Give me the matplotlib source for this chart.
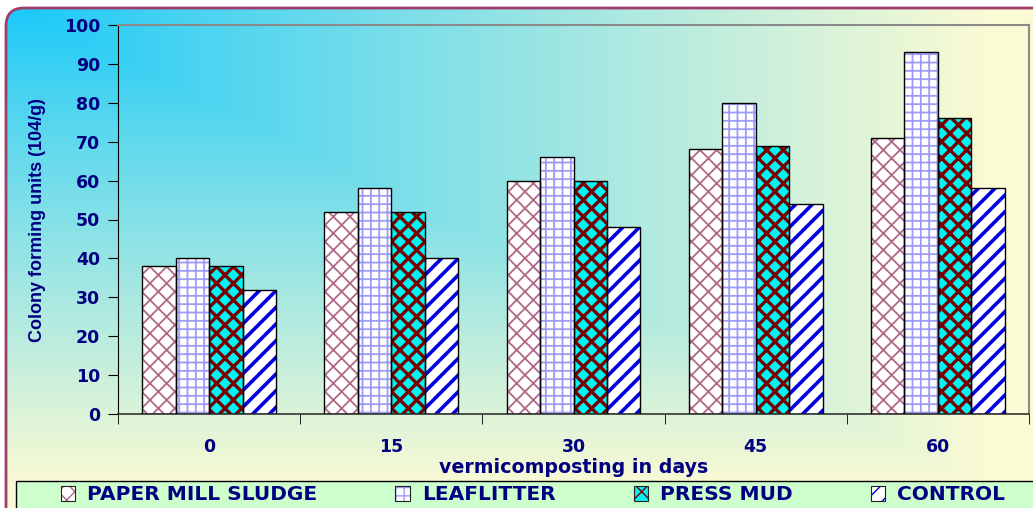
import numpy as np
import matplotlib
matplotlib.use("Agg")
import matplotlib.pyplot as plt
from matplotlib.patches import Patch, FancyBboxPatch, Rectangle
from matplotlib.legend_handler import HandlerTuple

categories = ["0", "15", "30", "45", "60"]
series_names = ["PAPER MILL SLUDGE", "LEAFLITTER", "PRESS MUD", "CONTROL"]
paper_mill = [38, 52, 60, 68, 71]
leaflitter = [40, 58, 66, 80, 93]
press_mud = [38, 52, 60, 69, 76]
control = [32, 40, 48, 54, 58]
y_ticks = [0, 10, 20, 30, 40, 50, 60, 70, 80, 90, 100]

styles = [
    dict(face="white", hcol="#b06888", hatch="xx", hlw=1.3),
    dict(face="white", hcol="#9c9cf8", hatch="++", hlw=1.3),
    dict(face="#00f4f4", hcol="#7a0000", hatch="xx", hlw=2.4),
    dict(face="white", hcol="#0000e0", hatch="//", hlw=2.6),
]

plt.rcParams['font.family'] = ['DejaVu Sans']
navy = "#000080"
wide = ['DejaVu Sans']
narrow = ['Liberation Sans', 'DejaVu Sans']

W, H = 1033, 508
fig = plt.figure(figsize=(W / 100, H / 100), dpi=100)

# background gradient clipped to rounded rectangle
bg = fig.add_axes([0, 0, 1, 1], zorder=-10)
bg.set_xlim(0, W)
bg.set_ylim(H, 0)
bg.axis("off")
yy, xx = np.mgrid[0:H, 0:W]
t = np.maximum(xx / W, yy / H)
t = np.clip(t * 1.05, 0, 1) ** 0.9
c0 = np.array([20, 200, 250]) / 255.0
c1 = np.array([250, 250, 212]) / 255.0
img = c0[None, None, :] * (1 - t[..., None]) + c1[None, None, :] * t[..., None]
im = bg.imshow(img, extent=(0, W, H, 0), aspect="auto", interpolation="bilinear")
frame = FancyBboxPatch((6, 8), W + 20, H + 20, boxstyle="round,pad=0,rounding_size=18",
                       facecolor="none", edgecolor="#a03c6c", linewidth=2)
bg.add_patch(frame)
im.set_clip_path(frame)
# legend box
bg.add_patch(Rectangle((16, 481), W, 40, facecolor="#ccffcc", edgecolor="black", linewidth=1.0))

ax = fig.add_axes([118 / W, 1 - 414 / H, (1029 - 118) / W, (414 - 25) / H])
ax.patch.set_alpha(0)

x = np.arange(len(categories))
w = 0.1836
data = [paper_mill, leaflitter, press_mud, control]
handles = []
for i, (vals, st) in enumerate(zip(data, styles)):
    pos = x + (i - 1.5) * w
    bars = ax.bar(pos, vals, width=w, color=st["face"], edgecolor=st["hcol"],
                  hatch=st["hatch"], linewidth=0, zorder=2)
    for b in bars:
        try:
            b.set_hatch_linewidth(st["hlw"])
        except AttributeError:
            pass
    ax.bar(pos, vals, width=w, fill=False, edgecolor="black", linewidth=1.0, zorder=3)
    h = Patch(facecolor=st["face"], edgecolor=st["hcol"], hatch=st["hatch"], linewidth=0)
    try:
        h.set_hatch_linewidth(st["hlw"] * 0.8)
    except AttributeError:
        pass
    outline = Patch(facecolor="none", edgecolor="#222222", linewidth=0.8)
    handles.append((h, outline))

ax.set_xlim(-0.5, len(categories) - 0.5)
ax.set_ylim(0, 100)
ax.set_yticks(y_ticks)
ax.set_yticklabels([str(v) for v in y_ticks], fontsize=12.5, fontweight="bold", color=navy, family=wide)
ax.set_xticks(x)
ax.set_xticklabels(categories, fontsize=12.5, fontweight="bold", color=navy, family=wide)
ax.set_xticks(np.arange(-0.5, len(categories), 1.0), minor=True)
ax.tick_params(axis="x", which="major", length=0, pad=17)
ax.tick_params(axis="x", which="minor", length=7, direction="out", color="black")
ax.tick_params(axis="y", length=7, direction="out", pad=6, color="black")

for s in ["top", "right"]:
    ax.spines[s].set_color("#8a8a8a")
    ax.spines[s].set_linewidth(1.5)
ax.spines["left"].set_color("black")
ax.spines["bottom"].set_color("#333333")
ax.spines["bottom"].set_linewidth(1.2)

ax.set_ylabel("Colony forming units (104/g)", fontsize=13, fontweight="bold", color=navy,
              family=narrow, labelpad=13)
ax.set_xlabel("vermicomposting in days", fontsize=13.7, fontweight="bold", color=navy,
              family=wide, labelpad=2)

leg = fig.legend(handles, series_names, loc="center", ncol=4,
                 bbox_to_anchor=(533 / W, 1 - 495 / H),
                 handler_map={tuple: HandlerTuple(ndivide=1, pad=0)},
                 frameon=False, borderaxespad=0, handlelength=0.7,
                 handleheight=0.7, handletextpad=0.6, columnspacing=3.9, borderpad=0.0,
                 prop=dict(family=wide, weight="bold", size=14.5))
for txt in leg.get_texts():
    txt.set_color(navy)

fig.savefig("out.png", dpi=100)
